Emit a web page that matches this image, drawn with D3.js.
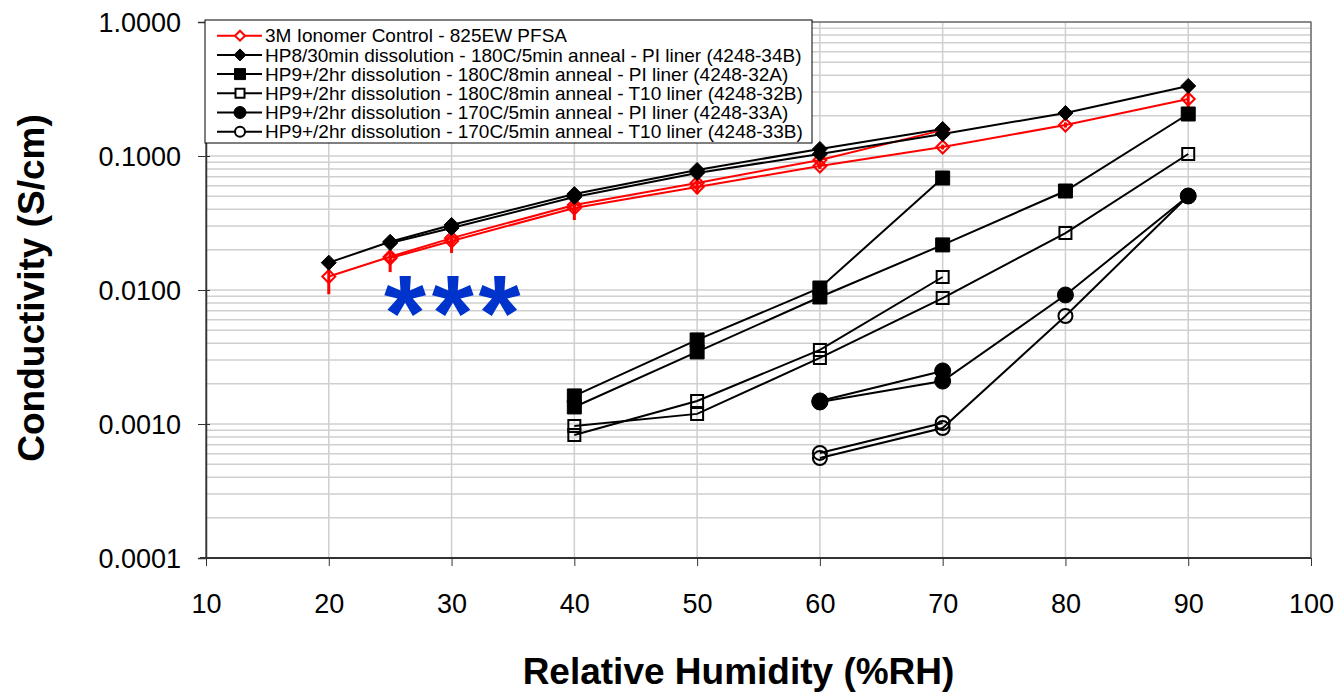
<!DOCTYPE html>
<html>
<head>
<meta charset="utf-8">
<script src="https://cdn.jsdelivr.net/npm/d3@7"></script>
<style>
  body { margin: 0; background: #fff; }
  text { font-family: Arial, "Liberation Sans", sans-serif; }
</style>
</head>
<body>
<svg id="chart" width="1337" height="694"></svg>
<script>
// x ticks and y ticks
var xTicks = [10, 20, 30, 40, 50, 60, 70, 80, 90, 100];
var yTicks = [0.0001, 0.001, 0.01, 0.1, 1];

// 3M control, two runs, with error bar bounds
var redRH1 = [20, 25, 30, 40, 50, 60, 70];
var redVal1 = [0.0126, 0.0177, 0.0244, 0.0431, 0.0629, 0.0933, 0.156];
var redLo1 = [0.0093, 0.0136, 0.0189, 0.0333, 0.052, 0.080, 0.146];
var redHi1 = [0.0146, 0.0200, 0.0270, 0.0470, 0.068, 0.099, 0.164];
var redRH2 = [25, 30, 40, 50, 60, 70, 80, 90];
var redVal2 = [0.0173, 0.0232, 0.0409, 0.0587, 0.0842, 0.1167, 0.1703, 0.2664];
var redLo2 = [0.0165, 0.0222, 0.0392, 0.0565, 0.0810, 0.1120, 0.163, 0.232];
var redHi2 = [0.0181, 0.0242, 0.0426, 0.0610, 0.0875, 0.1215, 0.178, 0.290];

// HP8 34B
var s34bRH1 = [20, 25, 30, 40, 50, 60, 70];
var s34bVal1 = [0.0160, 0.0229, 0.0306, 0.052, 0.0787, 0.1128, 0.159];
var s34bRH2 = [25, 30, 40, 50, 60, 70, 80, 90];
var s34bVal2 = [0.0224, 0.0290, 0.0494, 0.0747, 0.1035, 0.146, 0.2094, 0.333];

// HP9 32A
var s32aRH1 = [40, 50, 60, 70];
var s32aVal1 = [0.00162, 0.00424, 0.01035, 0.0685];
var s32aRH2 = [40, 50, 60, 70, 80, 90];
var s32aVal2 = [0.00134, 0.00345, 0.00887, 0.0217, 0.0548, 0.2058];

// HP9 32B
var s32bRH1 = [40, 50, 60, 70];
var s32bVal1 = [0.000828, 0.001486, 0.00357, 0.0125];
var s32bRH2 = [40, 50, 60, 70, 80, 90];
var s32bVal2 = [0.000966, 0.00119, 0.00311, 0.00871, 0.0266, 0.1035];

// HP9 33A
var s33aRH1 = [60, 70];
var s33aVal1 = [0.001486, 0.00249];
var s33aRH2 = [60, 70, 80, 90];
var s33aVal2 = [0.00146, 0.00209, 0.00918, 0.0503];

// HP9 33B
var s33bRH1 = [60, 70];
var s33bVal1 = [0.000608, 0.001017];
var s33bRH2 = [60, 70, 80, 90];
var s33bVal2 = [0.000557, 0.000933, 0.0064, 0.0503];

var legendLabels = [
  "3M Ionomer Control - 825EW PFSA",
  "HP8/30min dissolution - 180C/5min anneal - PI liner (4248-34B)",
  "HP9+/2hr dissolution - 180C/8min anneal - PI liner (4248-32A)",
  "HP9+/2hr dissolution - 180C/8min anneal - T10 liner (4248-32B)",
  "HP9+/2hr dissolution - 170C/5min anneal - PI liner (4248-33A)",
  "HP9+/2hr dissolution - 170C/5min anneal - T10 liner (4248-33B)"
];

function zip(rh, v) { return rh.map(function(d, i) { return {x: d, y: v[i]}; }); }

var series = [
  {name: legendLabels[0], color: '#ff0000', shape: 'diamond', filled: false, size: 15,
   runs: [zip(redRH1, redVal1), zip(redRH2, redVal2)]},
  {name: legendLabels[1], color: '#000', shape: 'diamond', filled: true, size: 15,
   runs: [zip(s34bRH1, s34bVal1), zip(s34bRH2, s34bVal2)]},
  {name: legendLabels[2], color: '#000', shape: 'square', filled: true, size: 14,
   runs: [zip(s32aRH1, s32aVal1), zip(s32aRH2, s32aVal2)]},
  {name: legendLabels[3], color: '#000', shape: 'square', filled: false, size: 14,
   runs: [zip(s32bRH1, s32bVal1), zip(s32bRH2, s32bVal2)]},
  {name: legendLabels[4], color: '#000', shape: 'circle', filled: true, size: 16,
   runs: [zip(s33aRH1, s33aVal1), zip(s33aRH2, s33aVal2)]},
  {name: legendLabels[5], color: '#000', shape: 'circle', filled: false, size: 16,
   runs: [zip(s33bRH1, s33bVal1), zip(s33bRH2, s33bVal2)]}
];

var svg = d3.select('#chart');
var pLeft = 206, pRight = 1311, pTop = 22, pBottom = 558;

var x = d3.scaleLinear().domain([10, 100]).range([pLeft, pRight]);
var y = d3.scaleLog().domain([0.0001, 1]).range([pBottom, pTop]);

// gridlines
var grid = svg.append('g');
grid.selectAll('line.h')
  .data(y.ticks())
  .enter().append('line')
  .attr('x1', pLeft).attr('x2', pRight)
  .attr('y1', function(d) { return y(d); })
  .attr('y2', function(d) { return y(d); })
  .style('stroke', '#cfcfcf')
  .style('stroke-width', '1.5px');
grid.selectAll('line.v')
  .data(xTicks)
  .enter().append('line')
  .attr('x1', function(d) { return x(d); })
  .attr('x2', function(d) { return x(d); })
  .attr('y1', pTop).attr('y2', pBottom)
  .style('stroke', '#cfcfcf')
  .style('stroke-width', '1.5px');

// plot frame
svg.append('rect')
  .attr('x', pLeft).attr('y', pTop)
  .attr('width', pRight - pLeft).attr('height', pBottom - pTop)
  .style('fill', 'none')
  .style('stroke', '#555')
  .style('stroke-width', '1.2px');

// axes
var xAxis = svg.append('g')
  .attr('transform', 'translate(0,' + pBottom + ')')
  .call(d3.axisBottom(x).tickValues(xTicks).tickSize(8).tickFormat(d3.format('d')));
xAxis.select('.domain').attr('d', 'M' + (pLeft - 6) + ',0H' + pRight).style('stroke', '#333').style('stroke-width', '2px');
xAxis.selectAll('.tick line').style('stroke', '#333');
xAxis.selectAll('.tick text')
  .attr('y', 0).attr('dy', null)
  .attr('transform', 'translate(0,55)')
  .style('font-size', '27px').style('font-family', 'Arial, "Liberation Sans", sans-serif').style('fill', '#000');

var yAxis = svg.append('g')
  .attr('transform', 'translate(' + pLeft + ',0)')
  .call(d3.axisLeft(y).tickValues(yTicks).tickSize(8).tickFormat(d3.format('.4f')));
yAxis.select('.domain').style('stroke', '#333').style('stroke-width', '1.5px');
yAxis.selectAll('.tick line').attr('x2', -8).attr('x1', 4).style('stroke', '#333');
yAxis.selectAll('.tick text')
  .attr('x', -25).attr('dy', '0.35em')
  .style('font-size', '27px').style('font-family', 'Arial, "Liberation Sans", sans-serif').style('fill', '#000');

// titles
svg.append('text')
  .attr('x', (pLeft + pRight) / 2 - 20)
  .attr('y', 684)
  .attr('text-anchor', 'middle')
  .style('font-size', '37px').style('font-weight', 'bold')
  .text('Relative Humidity (%RH)');

svg.append('text')
  .attr('transform', 'translate(44,288) rotate(-90)')
  .attr('text-anchor', 'middle')
  .style('font-size', '37px').style('font-weight', 'bold')
  .text('Conductivity (S/cm)');

// marker helpers
function symbolPath(shape, size) {
  var h = size / 2;
  if (shape === 'diamond') return 'M0,' + (-h) + 'L' + h + ',0L0,' + h + 'L' + (-h) + ',0Z';
  if (shape === 'square') return 'M' + (-h) + ',' + (-h) + 'H' + h + 'V' + h + 'H' + (-h) + 'Z';
  return 'M' + (-h) + ',0A' + h + ',' + h + ' 0 1,0 ' + h + ',0A' + h + ',' + h + ' 0 1,0 ' + (-h) + ',0Z';
}
function drawMarker(g, s, size) {
  var sw = s.filled ? 1 : 2;
  var sz = s.filled ? size : size - 2;
  return g.append('path')
    .attr('d', symbolPath(s.shape, sz))
    .style('fill', s.filled ? s.color : 'none')
    .style('stroke', s.color)
    .style('stroke-width', sw + 'px');
}

var line = d3.line()
  .x(function(d) { return x(d.x); })
  .y(function(d) { return y(d.y); });

var errRuns = [
  {rh: redRH1, lo: redLo1, hi: redHi1},
  {rh: redRH2, lo: redLo2, hi: redHi2}
];

series.forEach(function(s, si) {
  var g = svg.append('g');
  s.runs.forEach(function(run) {
    g.append('path')
      .datum(run)
      .attr('d', line)
      .style('fill', 'none')
      .style('stroke', s.color)
      .style('stroke-width', '2px');
  });
  if (si === 0) {
    errRuns.forEach(function(e) {
      g.selectAll(null)
        .data(e.rh.map(function(d, i) { return {x: d, lo: e.lo[i], hi: e.hi[i]}; }))
        .enter().append('line')
        .attr('x1', function(d) { return x(d.x); })
        .attr('x2', function(d) { return x(d.x); })
        .attr('y1', function(d) { return y(d.hi); })
        .attr('y2', function(d) { return y(d.lo); })
        .style('stroke', s.color)
        .style('stroke-width', '3px');
    });
  }
  s.runs.forEach(function(run) {
    run.forEach(function(d) {
      drawMarker(g, s, s.size).attr('transform', 'translate(' + x(d.x) + ',' + y(d.y) + ')');
    });
  });
});

// blue asterisks annotation
var starX = [26.2, 30.1, 33.9];
svg.append('g').selectAll('text')
  .data(starX)
  .enter().append('text')
  .attr('x', function(d) { return x(d); })
  .attr('y', y(0.0084) + 50)
  .attr('text-anchor', 'middle')
  .style('font-size', '108px').style('font-weight', 'bold')
  .style('fill', '#0033cc')
  .text('*');

// legend
var legend = svg.append('g').attr('transform', 'translate(205,20)');
legend.append('rect')
  .attr('width', 607).attr('height', 123)
  .style('fill', '#fff')
  .style('stroke', '#000')
  .style('stroke-width', '1px');
series.forEach(function(s, i) {
  var row = legend.append('g').attr('transform', 'translate(0,' + (15.7 + i * 19.2) + ')');
  row.append('line')
    .attr('x1', 12).attr('x2', 57)
    .style('stroke', s.color).style('stroke-width', '2px');
  var ms = s.shape === 'circle' ? 12 : (s.shape === 'square' ? 11 : 12);
  drawMarker(row, s, ms).attr('transform', 'translate(35,0)')
    .style('fill', s.filled ? s.color : '#fff');
  row.append('text')
    .attr('x', 60).attr('y', 0).attr('dy', '0.35em')
    .style('font-size', '19px')
    .text(s.name);
});
</script>
</body>
</html>
